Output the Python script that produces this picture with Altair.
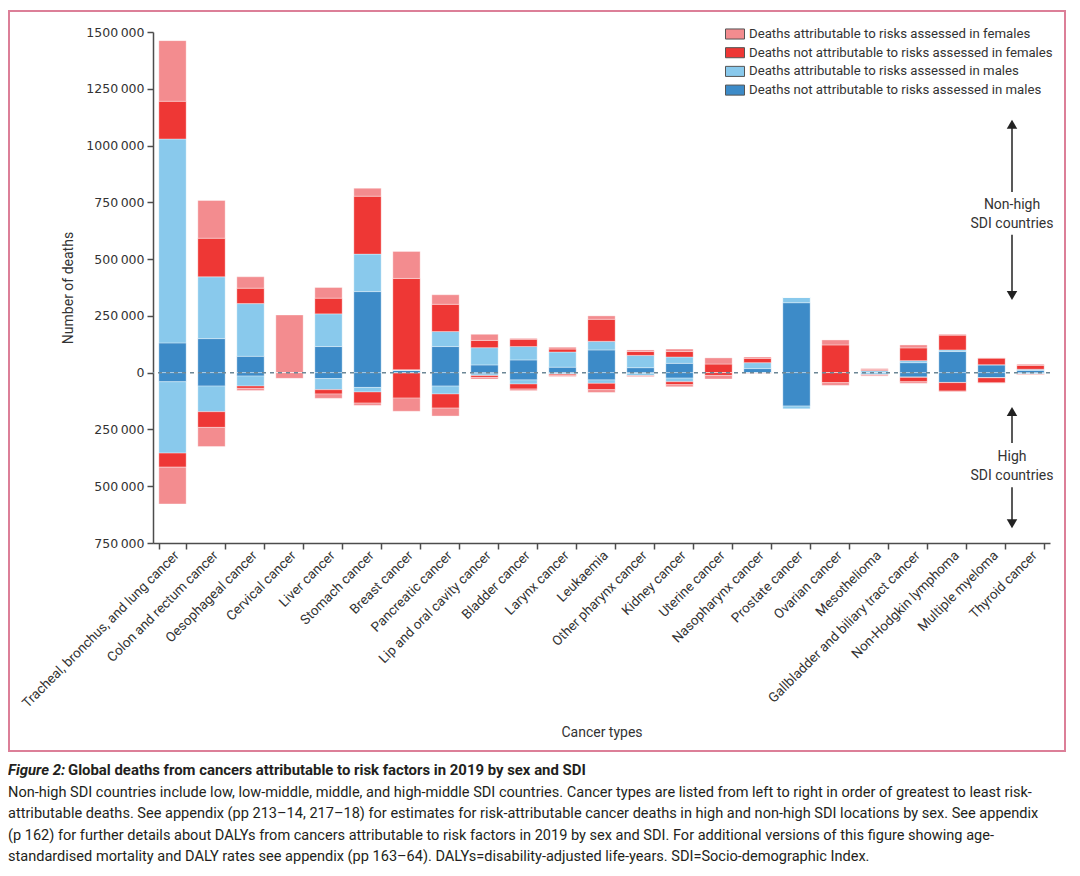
import altair as alt
import pandas as pd

categories = [
    "Tracheal, bronchus, and lung cancer", "Colon and rectum cancer", "Oesophageal cancer",
    "Cervical cancer", "Liver cancer", "Stomach cancer", "Breast cancer", "Pancreatic cancer",
    "Lip and oral cavity cancer", "Bladder cancer", "Larynx cancer", "Leukaemia",
    "Other pharynx cancer", "Kidney cancer", "Uterine cancer", "Nasopharynx cancer",
    "Prostate cancer", "Ovarian cancer", "Mesothelioma", "Gallbladder and biliary tract cancer",
    "Non-Hodgkin lymphoma", "Multiple myeloma", "Thyroid cancer",
]

# Non-high SDI countries (plotted upwards)
nonhigh_male_not = [131000, 150000, 72000, 0, 115000, 357000, 10000, 115000, 34000, 56000, 24000, 100000,
                    22000, 41000, 0, 18000, 308000, 0, 2000, 44000, 93000, 34000, 10000]
nonhigh_male_attr = [898000, 272000, 232000, 0, 144000, 165000, 2000, 66000, 76000, 59000, 67000, 38000,
                     54000, 28000, 0, 26000, 24000, 0, 7000, 9000, 7000, 1000, 5000]
nonhigh_female_not = [166000, 170000, 68000, 0, 69000, 255000, 403000, 120000, 32000, 32000, 13000, 97000,
                      17000, 24000, 38000, 19000, 0, 122000, 4000, 56000, 65000, 29000, 17000]
nonhigh_female_attr = [267000, 166000, 50000, 254000, 47000, 35000, 119000, 42000, 27000, 4000, 8000, 15000,
                       7000, 11000, 27000, 6000, 0, 22000, 5000, 13000, 4000, 1000, 5000]

# High SDI countries (plotted downwards)
high_male_not = [40000, 59000, 15000, 0, 26000, 65000, 2000, 59000, 5000, 32000, 3000, 32000,
                 3000, 24000, 0, 1000, 147000, 0, 1000, 19000, 43000, 22000, 4000]
high_male_attr = [314000, 113000, 44000, 0, 49000, 20000, 0, 35000, 8000, 18000, 4000, 15000,
                  10000, 16000, 0, 1000, 12000, 0, 8000, 2000, 1000, 1000, 2000]
high_female_not = [62000, 69000, 10000, 0, 19000, 49000, 110000, 62000, 8000, 22000, 6000, 28000,
                   2000, 13000, 12000, 1000, 0, 44000, 2000, 19000, 37000, 22000, 2000]
high_female_attr = [162000, 84000, 9000, 25000, 19000, 10000, 58000, 35000, 7000, 7000, 4000, 12000,
                    3000, 9000, 16000, 1000, 0, 12000, 4000, 7000, 3000, 1000, 2000]

series_names = [
    "Deaths attributable to risks assessed in females",
    "Deaths not attributable to risks assessed in females",
    "Deaths attributable to risks assessed in males",
    "Deaths not attributable to risks assessed in males",
]
series_colors = ["#f38c8f", "#ee3735", "#89c9ec", "#3d8bc8"]

y_ticks = [-750000, -500000, -250000, 0, 250000, 500000, 750000, 1000000, 1250000, 1500000]

# annotation arrows (in data units)
arrow_shafts = [(796000, 1090000), (607000, 345000), (-310000, -175000), (-504000, -660000)]
arrow_heads = [(1094000, "triangle-up"), (340000, "triangle-down"), (-171000, "triangle-up"), (-665000, "triangle-down")]
arrow_texts = [(739000, "Non-high"), (655000, "SDI countries"), (-371000, "High"), (-455000, "SDI countries")]

caption_title_a = "Figure 2:"
caption_title_b = "Global deaths from cancers attributable to risk factors in 2019 by sex and SDI"
caption_lines = [
    "Non-high SDI countries include low, low-middle, middle, and high-middle SDI countries. Cancer types are listed from left to right in order of greatest to least risk-",
    "attributable deaths. See appendix (pp 213\u201314, 217\u201318) for estimates for risk-attributable cancer deaths in high and non-high SDI locations by sex. See appendix",
    "(p 162) for further details about DALYs from cancers attributable to risk factors in 2019 by sex and SDI. For additional versions of this figure showing age-",
    "standardised mortality and DALY rates see appendix (pp 163\u201364). DALYs=disability-adjusted life-years. SDI=Socio-demographic Index.",
]

FONT = "Roboto, sans-serif"
NUMFONT = "DejaVu Sans, sans-serif"
TXT = "#333333"
CAP = "#231f20"

rows = []
for i, c in enumerate(categories):
    for sign, groups in ((1, (nonhigh_male_not, nonhigh_male_attr, nonhigh_female_not, nonhigh_female_attr)),
                         (-1, (high_male_not, high_male_attr, high_female_not, high_female_attr))):
        for k, arr in enumerate(groups):
            rows.append({"cancer": c, "series": series_names[3 - k], "ord": k, "value": sign * arr[i]})
df = pd.DataFrame(rows)

x_enc = alt.X(
    "cancer:N", sort=categories,
    scale=alt.Scale(paddingInner=0.3, paddingOuter=0.15),
    axis=alt.Axis(
        title="Cancer types", labelAngle=-45, labelAlign="right", labelBaseline="middle",
        tickBand="extent", tickSize=6, labelPadding=4, labelOffset=4, labelLimit=0,
        titleY=189, titleBaseline="middle",
    ),
)
y_scale = alt.Scale(domain=[-750000, 1500000], nice=False)

bars = alt.Chart(df).mark_bar(stroke="white", strokeWidth=0.7, strokeOpacity=0.5).encode(
    x=x_enc,
    y=alt.Y("value:Q", scale=y_scale, stack="zero",
            axis=alt.Axis(title="Number of deaths", values=y_ticks, grid=False, tickSize=6,
                          labelFont=NUMFONT, labelFontSize=12.5, labelPadding=3,
                          labelExpr="datum.value == 0 ? '0' : format(floor(abs(datum.value)/1000), 'd') + '\u2009000'",
                          titleX=-85, titleBaseline="middle")),
    color=alt.Color("series:N", scale=alt.Scale(domain=series_names, range=series_colors),
                    legend=alt.Legend(title=None, orient="none", legendX=572, legendY=-8,
                                      symbolType="M-1,-0.53H1V0.53H-1Z", symbolSize=361,
                                      symbolStrokeColor="#555555", symbolStrokeWidth=1,
                                      labelFontSize=13.2, labelFont=FONT, labelColor=TXT, labelLimit=0,
                                      rowPadding=0.7, padding=0, labelOffset=4)),
    order=alt.Order("ord:Q", sort="ascending"),
)

zero_line = alt.Chart(pd.DataFrame({"v": [0]})).mark_rule(
    color="#6d8796", strokeDash=[4, 4], strokeWidth=1.5
).encode(y=alt.Y("v:Q", scale=y_scale))

shaft_df = pd.DataFrame({"y1": [a for a, b in arrow_shafts], "y2": [b for a, b in arrow_shafts]})
shafts = alt.Chart(shaft_df).mark_rule(color="#222222", strokeWidth=1.5).encode(
    x=alt.value(859), y=alt.Y("y1:Q", scale=y_scale), y2="y2:Q")

heads = alt.layer(*[
    alt.Chart(pd.DataFrame({"y": [yv]})).mark_point(shape=shp, filled=True, size=110, color="#222222", opacity=1).encode(
        x=alt.value(859), y=alt.Y("y:Q", scale=y_scale))
    for yv, shp in arrow_heads
])

text_df = pd.DataFrame({"y": [a for a, b in arrow_texts], "t": [b for a, b in arrow_texts]})
texts = alt.Chart(text_df).mark_text(font=FONT, fontSize=14, color=TXT, align="center", baseline="middle").encode(
    x=alt.value(859), y=alt.Y("y:Q", scale=y_scale), text="t:N")

one = pd.DataFrame({"a": [0]})
frame = alt.Chart(one).mark_rect(fill="transparent", stroke="#dc7f98", strokeWidth=2, clip=False).encode(
    x=alt.value(-144), x2=alt.value(912), y=alt.value(-21), y2=alt.value(719))

CAPSIZE = 14.55
TITLESIZE = 14.9
cap_a = alt.Chart(one).mark_text(font=FONT, fontSize=TITLESIZE, fontWeight="bold", fontStyle="italic",
                                 color=CAP, align="left", baseline="middle").encode(
    x=alt.value(-145), y=alt.value(739), text=alt.value(caption_title_a))
cap_b = alt.Chart(one).mark_text(font=FONT, fontSize=TITLESIZE, fontWeight="bold",
                                 color=CAP, align="left", baseline="middle").encode(
    x=alt.value(-85), y=alt.value(739), text=alt.value(caption_title_b))

cap_layers = [
    alt.Chart(pd.DataFrame({"t": [line]})).mark_text(
        font=FONT, fontSize=CAPSIZE, color=CAP, align="left", baseline="middle").encode(
        x=alt.value(-145), y=alt.value(760.5 + 21.5 * j), text="t:N")
    for j, line in enumerate(caption_lines)
]

chart = alt.layer(bars, zero_line, shafts, heads, texts, frame, cap_a, cap_b, *cap_layers).properties(
    width=897, height=511,
    padding={"left": 145, "top": 24, "right": 22, "bottom": 325},
    autosize=alt.AutoSizeParams(type="none"),
    background="white",
).configure_view(strokeWidth=0).configure_axis(
    labelFont=FONT, titleFont=FONT, labelFontSize=13.5, titleFontSize=14, titleFontWeight="normal",
    labelColor=TXT, titleColor=TXT, domainColor="#4d4d4d", tickColor="#4d4d4d", domainWidth=1.5, tickWidth=1.5,
)

chart.save("out.html", embed_options={"renderer": "svg", "actions": False})
